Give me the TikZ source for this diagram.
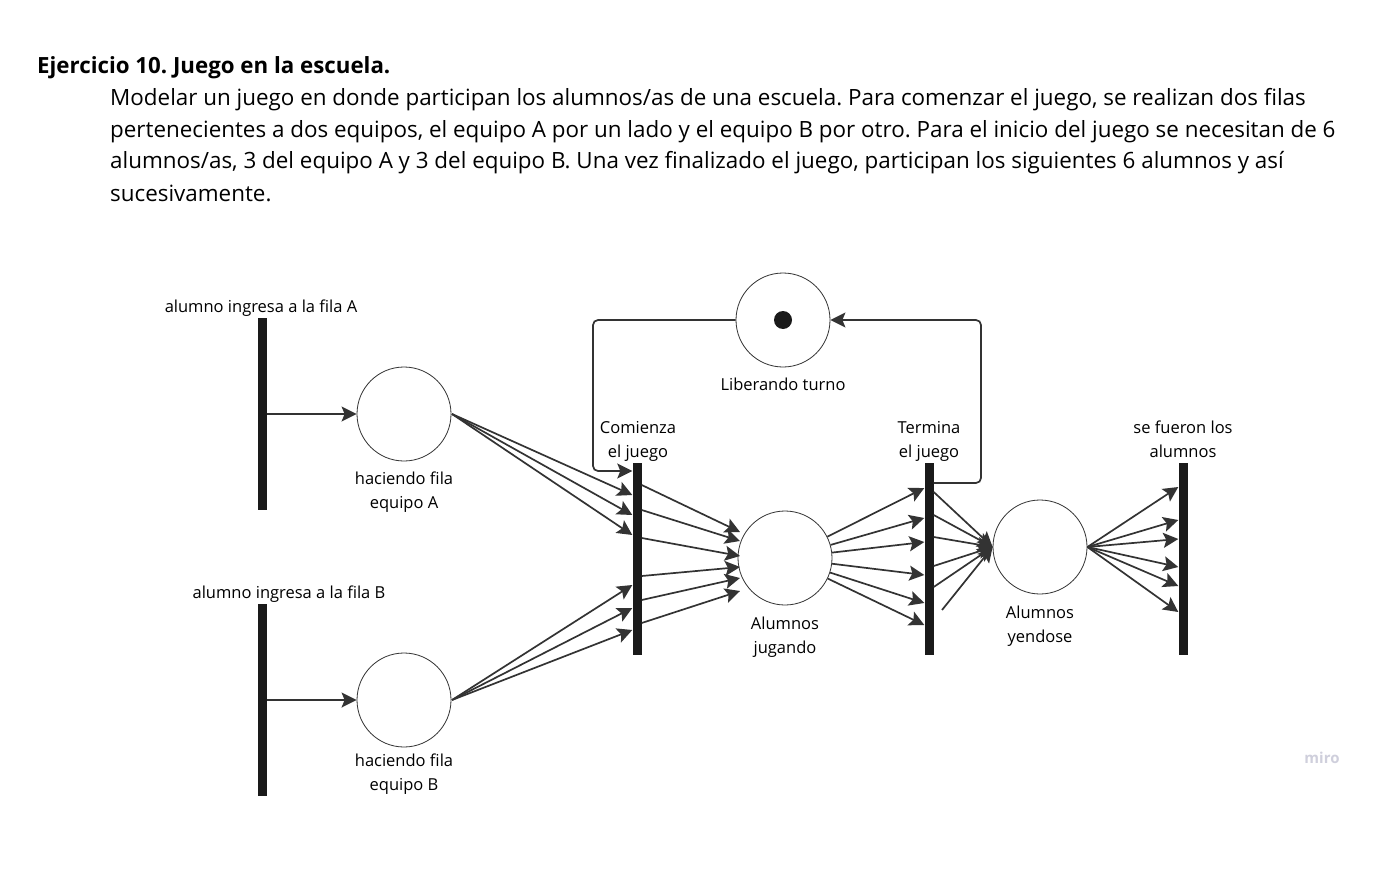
\documentclass[tikz,border=0pt]{standalone}
\usepackage{fontspec}
\setmainfont{Open Sans}
\usetikzlibrary{arrows.meta,calc}
\definecolor{ln}{HTML}{333333}
\definecolor{barc}{HTML}{1A1A1A}
\definecolor{miroc}{HTML}{CFCFDC}
\frenchspacing
\tikzset{
  bar/.style={fill=barc, draw=none, minimum width=9pt, minimum height=192pt, inner sep=0pt},
  place/.style={circle, draw=ln, line width=0.8pt, minimum size=94pt, inner sep=0pt},
  arc/.style={draw=ln, line width=1.7pt, -{Stealth[length=15pt,width=15pt,inset=3pt]}},
  lbl/.style={font=\fontsize{16.5}{24}\selectfont, align=center, inner sep=0pt, text=black, anchor=base},
  para/.style={font=\fontsize{22.4}{32}\selectfont, anchor=base west, inner sep=0pt}
}
\begin{document}
\begin{tikzpicture}[x=1pt,y=-1pt]
\useasboundingbox (0,0) rectangle (1386,869);
\fill[white] (0,0) rectangle (1386,869);
% text
\node[para, font=\fontsize{22.3}{32}\bfseries] (title) at (37,74) {Ejercicio 10. Juego en la escuela.};
\node[para] (p1) at (110,106) {Modelar un juego en donde participan los alumnos/as de una escuela. Para comenzar el juego, se realizan dos filas};
\node[para] (p2) at (110,138) {pertenecientes a dos equipos, el equipo A por un lado y el equipo B por otro. Para el inicio del juego se necesitan de 6};
\node[para] (p3) at (110,169) {alumnos/as, 3 del equipo A y 3 del equipo B. Una vez finalizado el juego, participan los siguientes 6 alumnos y así};
\node[para] (p4) at (110,201) {sucesivamente.};
% transitions
\node[bar] (ta) at (262,414) {};
\node[bar] (tb) at (262,700) {};
\node[bar] (tc) at (637,559) {};
\node[bar] (tt) at (929,559) {};
\node[bar] (tf) at (1183,559) {};
% places
\node[place] (pa) at (404,414) {};
\node[place] (pb) at (404,700) {};
\node[place] (lib) at (783,320) {};
\fill[barc] (lib.center) circle (9pt);
\node[place] (jug) at (785,558) {};
\node[place] (yen) at (1040,547) {};
% labels (base = baseline of last line)
\node[lbl] (lta) at (261,312) {alumno ingresa a la fila A};
\node[lbl] (ltb) at (289,598) {alumno ingresa a la fila B};
\node[lbl] (lpa) at (404,508) {haciendo fila\\equipo A};
\node[lbl] (lpb) at (404,790) {haciendo fila\\equipo B};
\node[lbl] (llib) at (783,390) {Liberando turno};
\node[lbl] (ltc) at (638,457) {Comienza\\el juego};
\node[lbl] (ltt) at (929,457) {Termina\\el juego};
\node[lbl] (ltf) at (1183,457) {se fueron los\\alumnos};
\node[lbl] (ljug) at (785,653) {Alumnos\\jugando};
\node[lbl] (lyen) at (1040,642) {Alumnos\\yendose};
\node[font=\fontsize{15}{15}\selectfont\bfseries, text=miroc, inner sep=0pt] (miro) at (1322,758) {miro};
% input arcs
\draw[arc] (ta.east) -- (pa.west);
\draw[arc] (tb.east) -- (pb.west);
\foreach \y in {495,515,535} \draw[arc] (452,414) -- (tc.west |- 0,\y);
\foreach \y in {585,608,630} \draw[arc] (452,700) -- (tc.west |- 0,\y);
% loop
\draw[arc, rounded corners=5pt] (lib.west) -- (593,320) -- (593,471) -- (tc.west |- 0,471);
\draw[arc, rounded corners=5pt] (tt.east |- 0,483) -- (981,483) -- (981,320) -- (lib.east);
% comienza -> jugando
\foreach \y/\ty in {485/532,510/541,538/556,576/567,600/578,623/591} \draw[arc] (tc.east |- 0,\y) -- (740,\ty);
% jugando -> termina
\foreach \y in {488,518,542,575,603,625} \draw[arc] (jug) -- (tt.west |- 0,\y);
% termina -> yendose
\foreach \y in {492,515,537,566,587} \draw[arc] (tt.east |- 0,\y) -- (yen.west);
\coordinate (gap) at (942,610);
\draw[arc] (gap) -- (yen.west);
% yendose -> se fueron
\foreach \y in {487,520,539,567,586,612} \draw[arc] (yen.east) -- (tf.west |- 0,\y);
\end{tikzpicture}
\end{document}
